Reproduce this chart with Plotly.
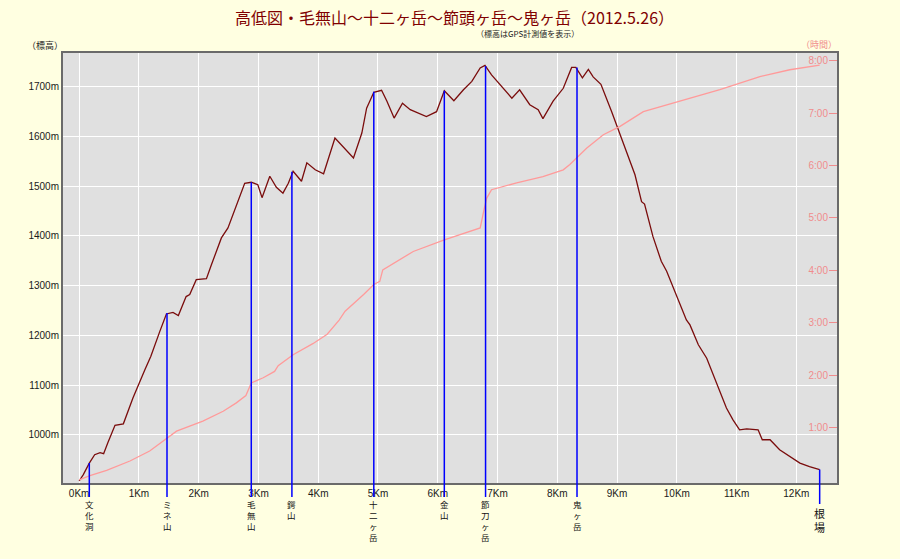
import plotly.graph_objects as go

# elevation profile (distance km / elevation m)
dist_km = [0.00, 0.07, 0.17, 0.26, 0.35, 0.41, 0.48, 0.60, 0.74, 0.90, 1.10, 1.20, 1.35, 1.46,
           1.57, 1.66, 1.79, 1.85, 1.96, 2.13, 2.21, 2.30, 2.38, 2.49, 2.63, 2.77, 2.88, 2.99,
           3.06, 3.19, 3.30, 3.41, 3.50, 3.58, 3.72, 3.81, 3.95, 4.09, 4.28, 4.39, 4.59, 4.73,
           4.81, 4.93, 5.06, 5.15, 5.27, 5.41, 5.54, 5.81, 5.98, 6.11, 6.27, 6.43, 6.57, 6.71,
           6.79, 6.90, 7.07, 7.24, 7.37, 7.54, 7.68, 7.76, 7.93, 8.10, 8.24, 8.31, 8.42, 8.52,
           8.60, 8.73, 8.91, 9.02, 9.10, 9.21, 9.30, 9.41, 9.46, 9.60, 9.74, 9.83, 9.94, 10.16,
           10.22, 10.36, 10.50, 10.66, 10.75, 10.83, 10.94, 11.05, 11.17, 11.36, 11.43, 11.56,
           11.72, 12.06, 12.22, 12.39]
elev_m = [907, 920, 943, 960, 964, 962, 984, 1019, 1022, 1074, 1131, 1158, 1208, 1243,
          1246, 1240, 1278, 1282, 1312, 1314, 1341, 1372, 1396, 1416, 1459, 1506, 1508, 1503,
          1477, 1520, 1498, 1486, 1506, 1530, 1510, 1547, 1533, 1525, 1597, 1583, 1557, 1607,
          1657, 1689, 1693, 1671, 1637, 1667, 1654, 1640, 1650, 1692, 1672, 1694, 1711, 1738,
          1743, 1724, 1701, 1677, 1694, 1664, 1654, 1636, 1671, 1697, 1739, 1739, 1718, 1735,
          1720, 1705, 1650, 1614, 1584, 1550, 1523, 1469, 1464, 1399, 1349, 1329, 1295, 1231,
          1221, 1181, 1154, 1107, 1080, 1054, 1030, 1010, 1012, 1010, 990, 990,
          970, 943, 936, 930]

# elapsed time (distance km / hours)
time_km = [0.00, 0.18, 0.46, 0.85, 1.18, 1.49, 1.63, 2.07, 2.41, 2.63, 2.79, 2.88, 3.08, 3.27,
           3.33, 3.58, 3.91, 4.15, 4.35, 4.45, 4.59, 4.76, 4.93, 5.03, 5.08, 5.31, 5.59, 6.11,
           6.43, 6.71, 6.78, 6.82, 6.90, 7.32, 7.76, 8.10, 8.21, 8.32, 8.49, 8.77, 9.05, 9.44,
           10.00, 10.72, 11.39, 11.89, 12.39]
time_h = [0.00, 0.08, 0.18, 0.36, 0.55, 0.80, 0.93, 1.12, 1.31, 1.47, 1.61, 1.85, 1.95, 2.07,
          2.18, 2.39, 2.60, 2.78, 3.05, 3.22, 3.36, 3.54, 3.73, 3.79, 4.01, 4.17, 4.36, 4.58,
          4.71, 4.81, 5.19, 5.38, 5.54, 5.67, 5.79, 5.92, 6.02, 6.14, 6.33, 6.59, 6.75, 7.03,
          7.22, 7.45, 7.70, 7.83, 7.92]

# waypoints
wp_names = ["文化洞", "ミネ山", "毛無山", "鍔山", "十二ヶ岳", "金山", "節刀ヶ岳", "鬼ヶ岳", "根場"]
wp_km = [0.17, 1.47, 2.88, 3.56, 4.93, 6.11, 6.80, 8.33, 12.39]
wp_elev = [943, 1245, 1508, 1529, 1690, 1692, 1742, 1739, 930]

elev_ticks = [1000, 1100, 1200, 1300, 1400, 1500, 1600, 1700]
km_ticks = list(range(13))
hour_ticks = [1, 2, 3, 4, 5, 6, 7, 8]

PINK = "#f08c8c"
FONT = "Noto Sans CJK JP"


def px_x(x):
    return (x - 63) / 774


def px_y(y):
    return (483 - y) / 430


fig = go.Figure()
fig.add_trace(go.Scatter(x=time_km, y=time_h, yaxis="y2", mode="lines",
                         line=dict(color="#ff9a9a", width=1.3), hoverinfo="skip"))
fig.add_trace(go.Scatter(x=dist_km, y=elev_m, mode="lines",
                         line=dict(color="#7a0c0c", width=1.3), hoverinfo="skip"))

annotations = [
    dict(text="高低図・毛無山～十二ヶ岳～節頭ヶ岳～鬼ヶ岳（2012.5.26）", x=px_x(454), y=px_y(17),
         font=dict(size=16, color="#800000", family=FONT)),
    dict(text="（標高はGPS計測値を表示）", x=px_x(527), y=px_y(34),
         font=dict(size=8, color="#222222", family=FONT)),
    dict(text="（標高）", x=px_x(45), y=px_y(45),
         font=dict(size=9, color="#222222", family=FONT)),
    dict(text="（時間）", x=px_x(819), y=px_y(44),
         font=dict(size=9, color=PINK, family=FONT)),
]
for a in annotations:
    a.update(xref="paper", yref="paper", showarrow=False, xanchor="center", yanchor="middle")

for name, km, el in zip(wp_names, wp_km, wp_elev):
    last = name == "根場"
    annotations.append(dict(
        x=km, y=el, xref="x", yref="y", axref="x", ax=km, ayref="y",
        ay=861 if last else 875, yanchor="top", xanchor="center",
        text="<br>".join(name), showarrow=True, arrowhead=0, arrowwidth=1.5,
        arrowcolor="#0000ff", standoff=0, borderpad=0,
        font=dict(size=11 if last else 8.5, color="#111111", family=FONT)))

axis_common = dict(showline=True, linecolor="#6a6a6a", linewidth=2, mirror=True,
                   showgrid=True, gridcolor="#ffffff", gridwidth=1, zeroline=False,
                   ticks="", tickfont=dict(size=10, color="#1a1a1a", family="Liberation Sans"))

fig.update_layout(
    width=900, height=559,
    margin=dict(l=63, r=63, t=53, b=76),
    paper_bgcolor="#ffffe1",
    plot_bgcolor="#e0e0e0",
    showlegend=False,
    xaxis=dict(range=[-0.27, 12.68], tickvals=km_ticks,
               ticktext=[f"{k}Km" for k in km_ticks], **axis_common),
    yaxis=dict(range=[903, 1768], tickvals=elev_ticks,
               ticktext=[f"{v}m" for v in elev_ticks], **axis_common),
    yaxis2=dict(overlaying="y", side="right", range=[-0.06, 8.15], tickvals=hour_ticks,
                ticktext=[f"{h}:00" for h in hour_ticks], showgrid=False, zeroline=False,
                showline=False, ticks="inside", ticklen=8, tickcolor=PINK,
                ticklabelposition="inside",
                tickfont=dict(size=10, color=PINK, family="Liberation Sans")),
    annotations=annotations,
)

# drop the page's default body margin so the chart sits at the window's corner
fig.write_html("out.html", config={"displayModeBar": False},
               post_script="document.body.style.margin='0';document.body.style.overflow='hidden';")
